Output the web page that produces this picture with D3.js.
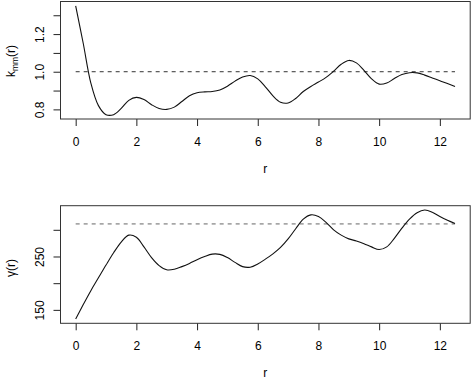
<!DOCTYPE html>
<html>
<head>
<meta charset="utf-8">
<script src="https://cdn.jsdelivr.net/npm/d3@7"></script>
<style>
  body { margin: 0; background: #fff; }
  text { font-family: "Liberation Sans", Arial, sans-serif; fill: #000; }
</style>
</head>
<body>
<svg id="chart" width="472" height="379"></svg>
<script>
const rValues = [0, 0.25, 0.5, 0.75, 1, 1.25, 1.5, 1.75, 2, 2.25, 2.5, 2.75, 3, 3.25, 3.5, 3.75,
  4, 4.25, 4.5, 4.75, 5, 5.25, 5.5, 5.75, 6, 6.25, 6.5, 6.75, 7, 7.25, 7.5, 7.75,
  8, 8.25, 8.5, 8.75, 9, 9.25, 9.5, 9.75, 10, 10.25, 10.5, 10.75, 11, 11.25, 11.5, 11.75,
  12, 12.25, 12.5];

const kmmValues = [1.35, 1.15, 0.94, 0.82, 0.772, 0.772, 0.805, 0.848, 0.864, 0.852, 0.825, 0.805, 0.80, 0.812, 0.842, 0.872,
  0.888, 0.893, 0.895, 0.903, 0.923, 0.95, 0.972, 0.98, 0.962, 0.92, 0.872, 0.838, 0.834, 0.858, 0.895, 0.922,
  0.945, 0.97, 1.003, 1.04, 1.06, 1.047, 1.007, 0.962, 0.934, 0.94, 0.964, 0.985, 0.995, 0.994, 0.982, 0.967,
  0.952, 0.937, 0.921];

const gammaValues = [133, 160, 186, 210, 234, 257, 277, 290, 286, 268, 248, 233, 225, 226, 231, 237,
  244, 250, 254.5, 254, 248, 239, 231, 230, 236, 245, 255, 267, 283, 302, 320, 328,
  325, 314, 300, 290, 283, 279, 274, 268, 263, 268, 284, 303, 320, 332, 337, 333,
  325, 318, 312];

const rTicks = [0, 2, 4, 6, 8, 10, 12];
const kmmTicks = [0.8, 0.9, 1.0, 1.1, 1.2, 1.3];
const kmmLabels = [0.8, 1.0, 1.2];
const gammaTicks = [150, 200, 250, 300];
const gammaLabels = [150, 250];
const kmmRef = 1.0;
const gammaRef = 311;

class Panel {
  constructor(_config, _data) {
    this.config = {
      parentElement: _config.parentElement,
      top: _config.top,
      bottom: _config.bottom,
      left: 60.5,
      right: 470.2,
      yTicks: _config.yTicks,
      yLabels: _config.yLabels,
      yLabelFormat: _config.yLabelFormat,
      refValue: _config.refValue,
      refColor: _config.refColor,
      labelY: _config.labelY,
      title: _config.title
    };
    this.data = _data;
    this.initVis();
  }

  initVis() {
    let vis = this;
    let c = vis.config;

    vis.svg = d3.select(c.parentElement);
    vis.chart = vis.svg.append('g');

    // R style 4% padding around the data range
    let pad = ext => {
      let d = (ext[1] - ext[0]) * 0.04;
      return [ext[0] - d, ext[1] + d];
    };

    vis.x = d3.scaleLinear()
      .domain(pad(d3.extent(vis.data, d => d.r)))
      .range([c.left, c.right]);

    vis.y = d3.scaleLinear()
      .domain(pad(d3.extent(vis.data, d => d.v)))
      .range([c.bottom, c.top]);

    vis.renderVis();
  }

  renderVis() {
    let vis = this;
    let c = vis.config;

    // x axis
    let xAxis = vis.chart.append('g')
      .attr('transform', `translate(0,${c.bottom})`)
      .call(d3.axisBottom(vis.x).tickValues(rTicks).tickSize(7).tickFormat(d3.format('d')));
    xAxis.select('.domain').remove();
    xAxis.selectAll('text')
      .attr('y', 26.5)
      .attr('dy', null)
      .attr('font-size', 12)
      .attr('font-family', null);
    xAxis.selectAll('line').attr('stroke', '#222');

    // y axis, labels parallel to the axis
    let yAxis = vis.chart.append('g')
      .attr('transform', `translate(${c.left},0)`)
      .call(d3.axisLeft(vis.y).tickValues(c.yTicks).tickSize(7)
        .tickFormat(d => c.yLabels.includes(d) ? c.yLabelFormat(d) : ''));
    yAxis.select('.domain').remove();
    yAxis.selectAll('text')
      .attr('transform', 'rotate(-90)')
      .attr('x', 0)
      .attr('y', -16.5)
      .attr('dy', null)
      .attr('text-anchor', 'middle')
      .attr('font-size', 12)
      .attr('font-family', null);
    yAxis.selectAll('line').attr('stroke', '#222');

    // box
    vis.chart.append('rect')
      .attr('x', c.left)
      .attr('y', c.top)
      .attr('width', c.right - c.left)
      .attr('height', c.bottom - c.top)
      .attr('fill', 'none')
      .attr('stroke', '#333')
      .attr('stroke-width', 1);

    // reference line
    let rExt = d3.extent(vis.data, d => d.r);
    vis.chart.append('line')
      .attr('x1', vis.x(rExt[0]))
      .attr('x2', vis.x(rExt[1]))
      .attr('y1', vis.y(c.refValue))
      .attr('y2', vis.y(c.refValue))
      .attr('stroke', c.refColor)
      .attr('stroke-width', 1)
      .attr('stroke-dasharray', '4,4');

    // curve
    let line = d3.line()
      .x(d => vis.x(d.r))
      .y(d => vis.y(d.v))
      .curve(d3.curveCatmullRom);

    vis.chart.append('path')
      .datum(vis.data)
      .attr('d', line)
      .attr('fill', 'none')
      .attr('stroke', '#111')
      .attr('stroke-width', 1.1);

    // x label
    vis.chart.append('text')
      .attr('x', (c.left + c.right) / 2)
      .attr('y', c.bottom + 53.5)
      .attr('text-anchor', 'middle')
      .attr('font-size', 12)
      .text('r');

    // y label
    let yl = vis.chart.append('text')
      .attr('transform', `translate(15,${c.labelY}) rotate(-90)`)
      .attr('text-anchor', 'middle')
      .attr('font-size', 12);
    c.title(yl);
  }
}

let kmmData = rValues.map((r, i) => ({ r: r, v: kmmValues[i] }));
let gammaData = rValues.map((r, i) => ({ r: r, v: gammaValues[i] }));

new Panel({
  parentElement: '#chart',
  top: 1.5,
  bottom: 119,
  yTicks: kmmTicks,
  yLabels: kmmLabels,
  yLabelFormat: d3.format('.1f'),
  refValue: kmmRef,
  refColor: '#333',
  labelY: 61,
  title: t => {
    t.append('tspan').text('k');
    t.append('tspan').attr('font-size', 8.5).attr('dy', 3).text('mm');
    t.append('tspan').attr('dy', -3).text('(r)');
  }
}, kmmData);

new Panel({
  parentElement: '#chart',
  top: 205.7,
  bottom: 323.3,
  yTicks: gammaTicks,
  yLabels: gammaLabels,
  yLabelFormat: d3.format('d'),
  refValue: gammaRef,
  refColor: '#666',
  labelY: 268,
  title: t => t.text('γ(r)')
}, gammaData);
</script>
</body>
</html>
